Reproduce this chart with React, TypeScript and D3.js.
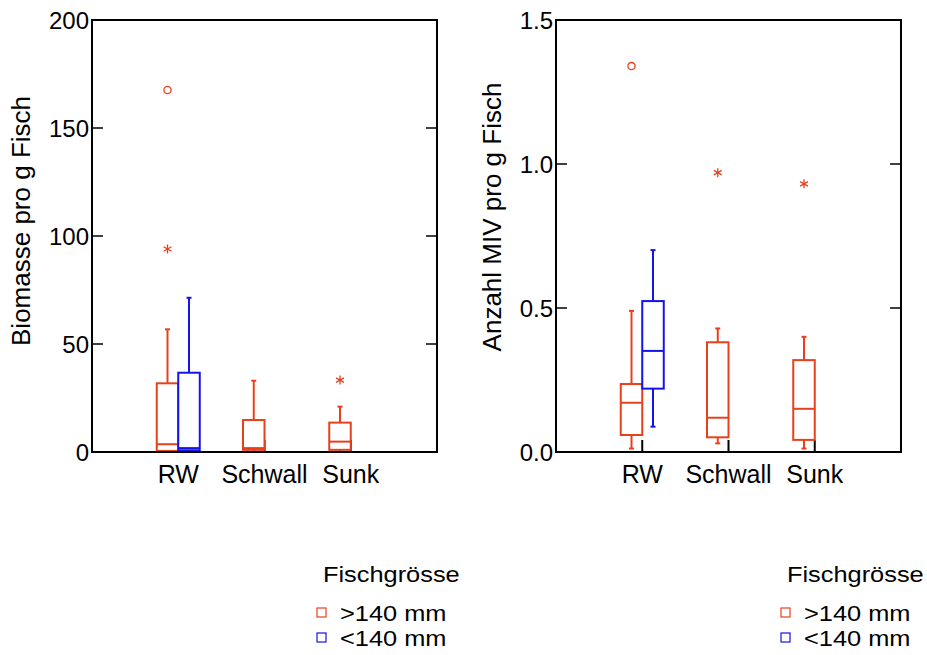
import React from "react";
import * as d3 from "d3";

const categories = ["RW", "Schwall", "Sunk"];

// [min, q1, median, q3, max] per category
const bioLarge = [
  [0, 0.5, 3.6, 31.8, 56.8],
  [0, 1.0, 1.8, 14.8, 33.0],
  [0, 1.0, 4.8, 13.6, 21.0],
];
const bioSmall = [[0, 0.8, 1.8, 36.7, 71.4]]; // RW only
const bioLargeOutliers = [
  { cat: "RW", v: 167.6, kind: "o" },
  { cat: "RW", v: 94.0, kind: "*" },
  { cat: "Sunk", v: 33.3, kind: "*" },
];

const mivLarge = [
  [0.012, 0.059, 0.171, 0.236, 0.49],
  [0.03, 0.051, 0.119, 0.381, 0.429],
  [0.012, 0.042, 0.15, 0.319, 0.4],
];
const mivSmall = [[0.088, 0.22, 0.351, 0.524, 0.701]];
const mivLargeOutliers = [
  { cat: "RW", v: 1.34, kind: "o" },
  { cat: "Schwall", v: 0.97, kind: "*" },
  { cat: "Sunk", v: 0.931, kind: "*" },
];

const bioTicks = [0, 50, 100, 150, 200];
const mivTicks = [0, 0.5, 1.0, 1.5];
const legendTitle = "Fischgrösse";
const legendLabels = [">140 mm", "<140 mm"];

const RED = "#e8401c";
const BLUE = "#1414e6";
const FONT = "Arial, 'Liberation Sans', sans-serif";

type Outlier = { cat: string; v: number; kind: string };

function Panel(props: {
  x0: number;
  x1: number;
  y0: number;
  y1: number;
  domain: [number, number];
  ticks: number[];
  fmt: (v: number) => string;
  title: string;
  titleX: number;
  titleY: number;
  large: number[][];
  small: number[][];
  outliers: Outlier[];
  legendX: number;
}) {
  const { x0, x1, y0, y1, domain, ticks, fmt, title, titleX, titleY, large, small, outliers, legendX } = props;
  const x = d3.scalePoint<string>().domain(categories).range([x0, x1]).padding(1);
  const y = d3.scaleLinear().domain(domain).range([y1, y0]);
  const bw = 21.5;
  const capW = 5;
  const lgSize = 21.5;
  const lgStretch = 1.18;

  const box = (s: number[], cx: number, color: string, key: string) => {
    const [mn, q1, md, q3, mx] = s;
    return (
      <g key={key} stroke={color} strokeWidth={2} fill="none">
        <line x1={cx} x2={cx} y1={y(q3)} y2={y(mx)} />
        <line x1={cx} x2={cx} y1={y(q1)} y2={y(mn)} />
        <line x1={cx - capW / 2} x2={cx + capW / 2} y1={y(mx)} y2={y(mx)} />
        <line x1={cx - capW / 2} x2={cx + capW / 2} y1={y(mn)} y2={y(mn)} />
        <rect x={cx - bw / 2} y={y(q3)} width={bw} height={y(q1) - y(q3)} fill="white" />
        <line x1={cx - bw / 2} x2={cx + bw / 2} y1={y(md)} y2={y(md)} />
      </g>
    );
  };

  return (
    <g fontFamily={FONT}>
      {categories.map((c) => (
        <line key={"xt" + c} x1={x(c)} x2={x(c)} y1={y1} y2={y1 - 12} stroke="black" strokeWidth={2} />
      ))}
      {ticks.map((t) => (
        <g key={"yt" + t}>
          <line x1={x0} x2={x0 + 11} y1={y(t)} y2={y(t)} stroke="black" strokeWidth={1.5} />
          <line x1={x1} x2={x1 - 11} y1={y(t)} y2={y(t)} stroke="black" strokeWidth={1.5} />
          <text x={x0 - 3} y={y(t)} textAnchor="end" dominantBaseline="central" fontSize={24} fill="black">
            {fmt(t)}
          </text>
        </g>
      ))}
      {large.map((s, i) => box(s, (x(categories[i]) as number) - bw / 2, RED, "L" + i))}
      {small.map((s, i) => box(s, (x(categories[i]) as number) + bw / 2, BLUE, "S" + i))}
      {outliers.map((o, i) => {
        const cx = (x(o.cat) as number) - bw / 2;
        const cy = y(o.v);
        if (o.kind === "o")
          return <circle key={"o" + i} cx={cx} cy={cy} r={3.6} fill="none" stroke={RED} strokeWidth={1.3} />;
        const r = 4.5;
        return (
          <g key={"o" + i} stroke={RED} strokeWidth={1.3}>
            <line x1={cx} x2={cx} y1={cy - r} y2={cy + r} />
            <line x1={cx - r * 0.87} x2={cx + r * 0.87} y1={cy - r / 2} y2={cy + r / 2} />
            <line x1={cx - r * 0.87} x2={cx + r * 0.87} y1={cy + r / 2} y2={cy - r / 2} />
          </g>
        );
      })}
      <rect x={x0} y={y0} width={x1 - x0} height={y1 - y0} fill="none" stroke="black" strokeWidth={2} />
      {categories.map((c) => (
        <text key={"xl" + c} x={x(c)} y={y1 + 31} textAnchor="middle" fontSize={25} fill="black">
          {c}
        </text>
      ))}
      <text
        transform={`translate(${titleX},${titleY}) rotate(-90)`}
        textAnchor="middle"
        dominantBaseline="central"
        fontSize={26}
        fill="black"
      >
        {title}
      </text>
      <text transform={`translate(${legendX},${582}) scale(${lgStretch},1)`} fontSize={lgSize} fill="black">
        {legendTitle}
      </text>
      {legendLabels.map((l, i) => (
        <g key={"lg" + i}>
          <rect
            x={legendX - 6}
            y={608 + i * 25}
            width={9}
            height={9}
            fill="none"
            stroke={i === 0 ? RED : BLUE}
            strokeWidth={1.2}
          />
          <text
            transform={`translate(${legendX + 17},${621 + i * 25}) scale(${lgStretch},1)`}
            fontSize={lgSize}
            fill="black"
          >
            {l}
          </text>
        </g>
      ))}
    </g>
  );
}

export default function App() {
  return (
    <svg
      width={927}
      height={655}
      style={{ position: "absolute", left: 0, top: 0, display: "block", background: "white" }}
    >
      <rect width={927} height={655} fill="white" />
      <Panel
        x0={92}
        x1={437}
        y0={20}
        y1={452}
        domain={[0, 200]}
        ticks={bioTicks}
        fmt={(v) => String(v)}
        title="Biomasse pro g Fisch"
        titleX={21}
        titleY={221}
        large={bioLarge}
        small={bioSmall}
        outliers={bioLargeOutliers}
        legendX={323}
      />
      <Panel
        x0={556}
        x1={901}
        y0={20}
        y1={452}
        domain={[0, 1.5]}
        ticks={mivTicks}
        fmt={(v) => v.toFixed(1)}
        title="Anzahl MIV pro g Fisch"
        titleX={492}
        titleY={217}
        large={mivLarge}
        small={mivSmall}
        outliers={mivLargeOutliers}
        legendX={787}
      />
    </svg>
  );
}
